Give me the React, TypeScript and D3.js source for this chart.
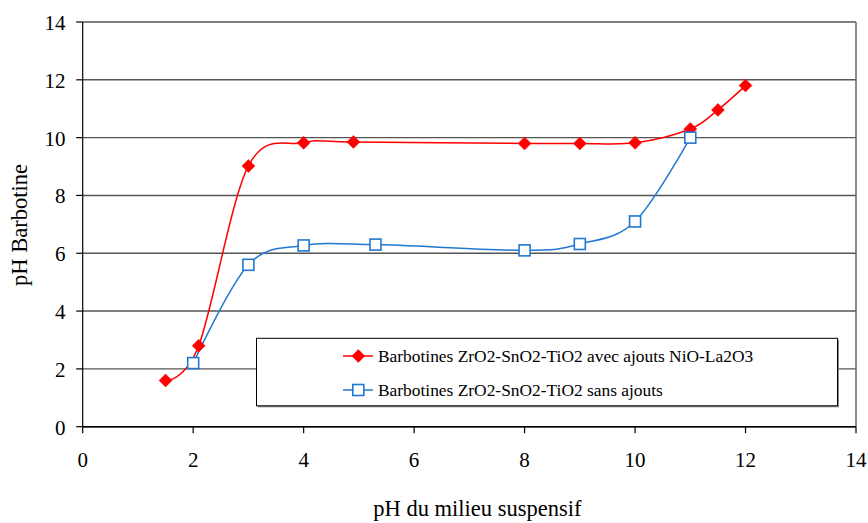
import React from "react";
import * as d3 from "d3";

const redX = [1.5, 2.1, 3, 4, 4.9, 8, 9, 10, 11, 11.5, 12];
const redY = [1.6, 2.8, 9.02, 9.82, 9.85, 9.8, 9.8, 9.82, 10.3, 10.96, 11.8];
const blueX = [2, 3, 4, 5.3, 8, 9, 10, 11];
const blueY = [2.2, 5.6, 6.27, 6.3, 6.1, 6.32, 7.1, 10.0];
const xTicks = [0, 2, 4, 6, 8, 10, 12, 14];
const yTicks = [0, 2, 4, 6, 8, 10, 12, 14];
const redLabel = "Barbotines ZrO2-SnO2-TiO2 avec ajouts NiO-La2O3";
const blueLabel = "Barbotines ZrO2-SnO2-TiO2 sans ajouts";
const xTitle = "pH du milieu suspensif";
const yTitle = "pH Barbotine";

const W = 868;
const H = 523;
const RED = "#FF0000";
const BLUE = "#2178D2";
const FONT = "Liberation Serif, DejaVu Serif, serif";
const tStyle = { fontFamily: FONT };

export default function App() {
  const x = d3.scaleLinear().domain([0, 14]).range([82.7, 856]);
  const y = d3.scaleLinear().domain([0, 14]).range([426.7, 22]);
  const line = d3
    .line<[number, number]>()
    .x((d) => x(d[0]))
    .y((d) => y(d[1]))
    .curve(d3.curveCardinal.tension(0));
  const redPts: [number, number][] = redX.map((v, i) => [v, redY[i]]);
  const bluePts: [number, number][] = blueX.map((v, i) => [v, blueY[i]]);

  const diamond = (cx: number, cy: number, r: number) =>
    `M${cx},${cy - r}L${cx + r},${cy}L${cx},${cy + r}L${cx - r},${cy}Z`;

  const [x0, x1] = x.range();
  const [y0, y1] = y.range();

  const legX = 256.5;
  const legY = 338.3;
  const legW = 581;
  const legH = 67.5;

  return (
    <svg
      width={W}
      height={H}
      style={{ position: "absolute", left: 0, top: 0, background: "#fff" }}
    >
      <rect x={0} y={0} width={W} height={H} fill="#fff" />
      {yTicks.map((t) => (
        <line key={"g" + t} x1={x0} x2={x1} y1={y(t)} y2={y(t)} stroke="#555" strokeWidth={1.4} />
      ))}
      <line x1={x1} x2={x1} y1={y1} y2={y0} stroke="#666" strokeWidth={1.5} />
      <line x1={x0} x2={x0} y1={y1} y2={y0} stroke="#000" strokeWidth={1.2} />
      <line x1={x0} x2={x1} y1={y0} y2={y0} stroke="#000" strokeWidth={1.4} />
      {yTicks.map((t) => (
        <g key={"yt" + t}>
          <line x1={x0 - 6.5} x2={x0} y1={y(t)} y2={y(t)} stroke="#000" strokeWidth={1.2} />
          <text x={65.5} y={y(t) + 8} textAnchor="end" fontSize={21} fill="#000" style={tStyle}>
            {t}
          </text>
        </g>
      ))}
      {xTicks.map((t) => (
        <g key={"xt" + t}>
          <line x1={x(t)} x2={x(t)} y1={y0} y2={y0 + 6.5} stroke="#000" strokeWidth={1.2} />
          <text x={x(t)} y={467} textAnchor="middle" fontSize={21} fill="#000" style={tStyle}>
            {t}
          </text>
        </g>
      ))}
      <text x={(x0 + x1) / 2 + 8} y={516} textAnchor="middle" fontSize={22.5} fill="#000" style={tStyle}>
        {xTitle}
      </text>
      <text
        transform={`translate(27,225) rotate(-90)`}
        textAnchor="middle"
        fontSize={22.5}
        fill="#000"
        style={tStyle}
      >
        {yTitle}
      </text>

      <path d={line(bluePts) || ""} fill="none" stroke={BLUE} strokeWidth={1.5} />
      <path d={line(redPts) || ""} fill="none" stroke={RED} strokeWidth={1.5} />
      {redPts.map((p, i) => (
        <path key={"r" + i} d={diamond(x(p[0]), y(p[1]), 6.5)} fill={RED} stroke={RED} strokeWidth={0.5} />
      ))}
      {bluePts.map((p, i) => (
        <rect
          key={"b" + i}
          x={x(p[0]) - 5.5}
          y={y(p[1]) - 5.5}
          width={11}
          height={11}
          fill="#fff"
          stroke={BLUE}
          strokeWidth={1.6}
        />
      ))}

      <rect x={legX + 1.5} y={legY + 1.5} width={legW} height={legH} fill="#888" />
      <rect x={legX} y={legY} width={legW} height={legH} fill="#fff" stroke="#000" strokeWidth={1} />
      <line x1={343} x2={373} y1={356} y2={356} stroke={RED} strokeWidth={1.5} />
      <path d={diamond(358.3, 356, 6.5)} fill={RED} stroke={RED} strokeWidth={0.5} />
      <text x={378} y={362.3} fontSize={17.4} fill="#000" style={tStyle}>
        {redLabel}
      </text>
      <line x1={343} x2={373} y1={390} y2={390} stroke={BLUE} strokeWidth={1.5} />
      <rect x={358.3 - 5.5} y={390 - 5.5} width={11} height={11} fill="#fff" stroke={BLUE} strokeWidth={1.6} />
      <text x={378} y={395.5} fontSize={17.4} fill="#000" style={tStyle}>
        {blueLabel}
      </text>
    </svg>
  );
}
